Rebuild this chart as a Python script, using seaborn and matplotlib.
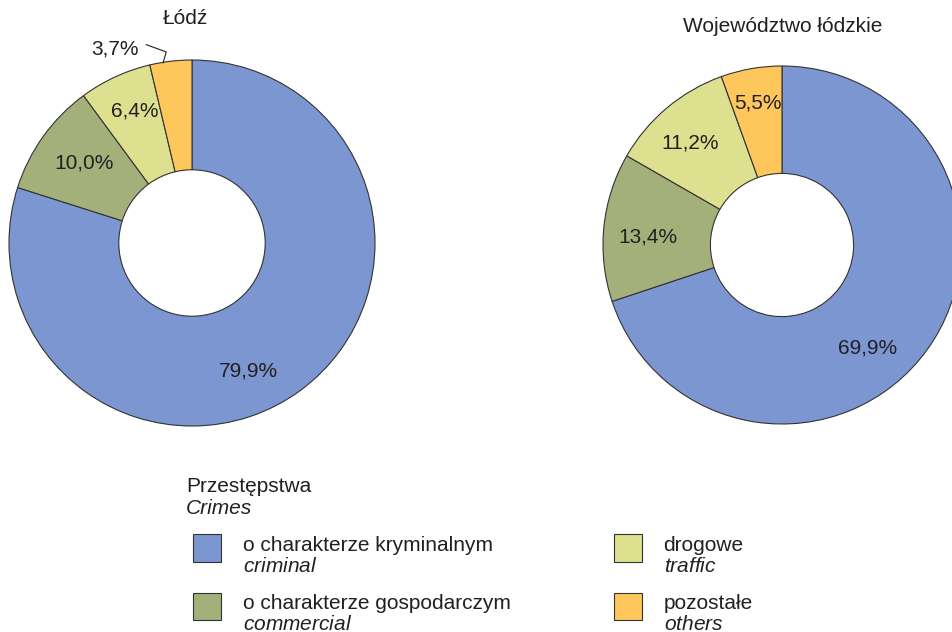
import numpy as np
import matplotlib.pyplot as plt
from matplotlib.patches import Patch
import seaborn as sns

sns.set_style("white")
plt.rcParams["font.family"] = ["Liberation Sans", "DejaVu Sans"]
plt.rcParams["mathtext.fontset"] = "custom"
plt.rcParams["mathtext.rm"] = "Liberation Sans"
plt.rcParams["mathtext.it"] = "Liberation Sans:italic"
plt.rcParams["text.color"] = "#231f20"

# data
categories_pl = ["o charakterze kryminalnym", "o charakterze gospodarczym", "drogowe", "pozostałe"]
categories_en = ["criminal", "commercial", "traffic", "others"]
lodz = [79.9, 10.0, 6.4, 3.7]
region = [69.9, 13.4, 11.2, 5.5]
titles = ["Łódź", "Województwo łódzkie"]
legend_title = ["Przestępstwa", "Crimes"]
colors = sns.color_palette(["#7b96d0", "#a3b07a", "#dde08e", "#fec75c"])

W, H = 952, 632
fig = plt.figure(figsize=(W / 100, H / 100), dpi=100)

def pct(p):
    return f"{p:.1f}%".replace(".", ",")

def donut(cx, cy, r, values, label_pos):
    # axes placed so that the pie fills it (pixel coords, y from top)
    ax = fig.add_axes([(cx - r) / W, (H - cy - r) / H, 2 * r / W, 2 * r / H])
    wedges, texts, autotexts = ax.pie(
        values, colors=colors, startangle=90, counterclock=False,
        autopct=pct, pctdistance=0.76,
        wedgeprops=dict(width=0.6, edgecolor="#333333", linewidth=0.8),
        textprops=dict(fontsize=15, color="#231f20"))
    ax.set_xlim(-1, 1)
    ax.set_ylim(-1, 1)
    for t, pos in zip(autotexts, label_pos):
        if pos is not None:
            t.set_position(pos)
    return ax, wedges, autotexts

ax1, w1, t1 = donut(192, 243, 183, lodz,
                    [(0.31, -0.70), (-0.59, 0.437), (-0.311, 0.721), None])
# small slice label outside with leader line
t1[3].set_visible(False)
ax1.annotate(pct(lodz[3]), xy=(-0.158, 0.984), xytext=(-0.29, 1.062),
             ha="right", va="center", fontsize=15, color="#231f20",
             annotation_clip=False,
             arrowprops=dict(arrowstyle="-", color="#231f20", lw=0.8,
                             shrinkA=3, shrinkB=0, relpos=(1.0, 0.85),
                             connectionstyle="angle,angleA=-20,angleB=74,rad=0"))

ax2, w2, t2 = donut(782, 245, 179, region,
                    [(0.48, -0.575), (-0.749, 0.045), (-0.514, 0.57), (-0.134, 0.793)])

fig.text(185 / W, 1 - 18 / H, titles[0], ha="center", va="center", fontsize=15)
fig.text(783 / W, 1 - 26 / H, titles[1], ha="center", va="center", fontsize=15)

# legend title
fig.text(186 / W, 1 - 486 / H, legend_title[0], ha="left", va="center", fontsize=15)
fig.text(186 / W, 1 - 509 / H, legend_title[1], ha="left", va="center", fontsize=15,
         style="italic")

handles = [Patch(facecolor=c, edgecolor="#333333", linewidth=0.8) for c in colors]
labels = [f"{pl}\n$\\it{{{en}}}$" for pl, en in zip(categories_pl, categories_en)]
leg = fig.legend(handles, labels, ncol=2, loc="upper left",
                 bbox_to_anchor=(193 / W, 1 - 536 / H), frameon=False,
                 fontsize=15, borderpad=0, borderaxespad=0,
                 handlelength=1.34, handleheight=1.65, handletextpad=1.05,
                 columnspacing=4.95, labelspacing=0.9)
for t in leg.get_texts():
    t.set_linespacing(1.1)
# boxes sit level with the first text line
for h in leg.legend_handles:
    h.set_y(h.get_y() + 6.0)

fig.savefig("out.png", dpi=100)
